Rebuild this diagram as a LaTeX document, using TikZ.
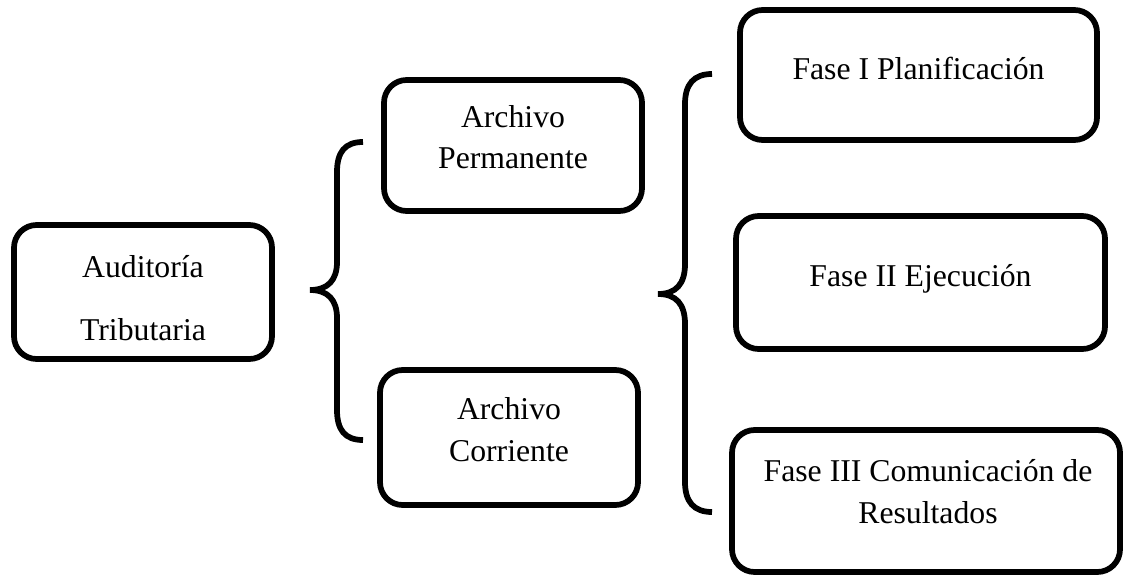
\documentclass[tikz,border=0pt]{standalone}
\usepackage{fontspec}
\setmainfont{Liberation Serif}
\begin{document}
\begin{tikzpicture}[x=0.75pt,y=-0.75pt,
  box/.style={draw=black, line width=4.3pt, rounded corners=17pt, inner sep=0pt},
  brace/.style={draw=black, line width=4.3pt},
  txt/.style={anchor=base, inner sep=0pt, font=\fontsize{23.8}{28}\selectfont}]
\useasboundingbox (0,0) rectangle (1126,577);
% boxes
\node[box, minimum width=258*0.75pt, minimum height=134*0.75pt] (aud) at (143,292) {};
\node[box, minimum width=258*0.75pt, minimum height=131*0.75pt] (perm) at (513,145.5) {};
\node[box, minimum width=258*0.75pt, minimum height=135*0.75pt] (corr) at (509,437.5) {};
\node[box, minimum width=357*0.75pt, minimum height=130*0.75pt] (f1) at (918.5,75) {};
\node[box, minimum width=369*0.75pt, minimum height=133*0.75pt] (f2) at (920.5,282.5) {};
\node[box, minimum width=388*0.75pt, minimum height=142*0.75pt] (f3) at (926,501) {};
% texts
\node[txt] (audA) at (143,277) {Auditoría};
\node[txt] (audB) at (143,340) {Tributaria};
\node[txt] (permA) at (513,128) {Archivo};
\node[txt] (permB) at (513,169) {Permanente};
\node[txt] (corrA) at (509,419) {Archivo};
\node[txt] (corrB) at (509,461) {Corriente};
\node[txt] (f1A) at (918.5,80) {Fase I Planificación};
\node[txt] (f2A) at (920.5,286) {Fase II Ejecución};
\node[txt] (f3A) at (928,481) {Fase III Comunicación de};
\node[txt] (f3B) at (928,523) {Resultados};
% braces
\draw[brace] (363,142) .. controls (345,142) and (337,152) .. (337,172) -- (337,262)
  .. controls (337,280) and (328,290) .. (310,290)
  .. controls (328,290) and (337,300) .. (337,318) -- (337,410)
  .. controls (337,430) and (345,440) .. (363,440);
\draw[brace] (712,74) .. controls (694,74) and (685,84) .. (685,104) -- (685,264)
  .. controls (685,284) and (676,294) .. (658,294)
  .. controls (676,294) and (685,304) .. (685,324) -- (685,482)
  .. controls (685,502) and (694,512) .. (712,512);
\end{tikzpicture}
\end{document}
